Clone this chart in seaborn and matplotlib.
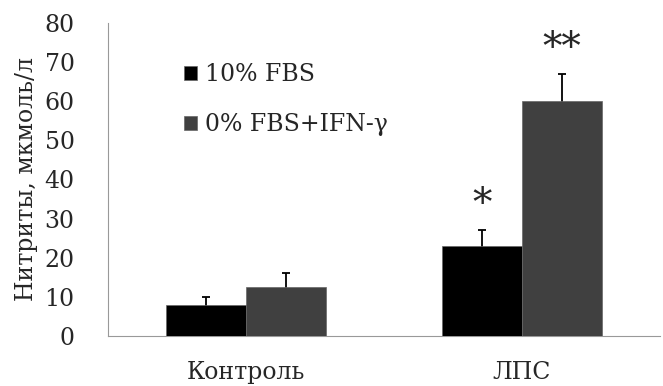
import pandas as pd
import matplotlib.pyplot as plt
import seaborn as sns

# Values
groups = ['Контроль', 'ЛПС']
series = ['10% FBS', '0% FBS+IFN-γ']
fbs10 = [8, 23]
fbs0_ifn = [12.5, 60]
err_fbs10 = [2, 4]
err_fbs0_ifn = [3.5, 7]
stars = ['*', '**']
colors = ['#000000', '#404040']

data = pd.DataFrame({
    'group': groups * 2,
    'series': [series[0]] * 2 + [series[1]] * 2,
    'value': fbs10 + fbs0_ifn,
    'err': err_fbs10 + err_fbs0_ifn,
})

sns.set_style('white')
plt.rcParams['font.family'] = ['DejaVu Serif']

fig = plt.figure(figsize=(6.63, 3.86), dpi=100)
ax = fig.add_axes([0.163, 0.13, 0.832, 0.81])

sns.barplot(data=data, x='group', y='value', hue='series', palette=colors,
            width=0.58, gap=0, errorbar=None, saturation=1, ax=ax,
            edgecolor='#666666', linewidth=0.5, zorder=3)

# Error bars behind the bars so only the upper half shows
for i, s in enumerate(series):
    sub = data[data['series'] == s]
    xs = [j + (i - 0.5) * 0.29 for j in range(len(groups))]
    ax.errorbar(xs, sub['value'], yerr=sub['err'], fmt='none', ecolor='black',
                elinewidth=1.3, capsize=3, capthick=1.3, zorder=2)
    top = (sub['value'] + sub['err']).tolist()
    ax.text(xs[1], top[1] + 1.8, stars[i], ha='center', va='bottom', fontsize=28)

ax.set_xlim(-0.5, 1.5)
ax.set_ylim(0, 80)
ax.set_yticks(range(0, 81, 10))
ax.set_xticks([-0.5, 0.5, 1.5], minor=True)
ax.tick_params(axis='x', which='major', length=0, labelsize=17, pad=18)
ax.tick_params(axis='x', which='minor', length=6, color='#999999', direction='out')
ax.tick_params(axis='y', length=6, color='#999999', direction='out', labelsize=17, pad=18)
ax.set_xlabel('')
ax.set_ylabel('Нитриты, мкмоль/л', fontsize=17, labelpad=5)

for side in ['top', 'right']:
    ax.spines[side].set_visible(False)
for side in ['left', 'bottom']:
    ax.spines[side].set_color('#999999')
    ax.spines[side].set_linewidth(0.8)

ax.legend(title=None, frameon=False, fontsize=17, loc='upper left',
          bbox_to_anchor=(0.1, 0.94), handlelength=0.55, handleheight=0.55,
          handletextpad=0.3, labelspacing=1.15)

fig.savefig('out.png', dpi=100)
